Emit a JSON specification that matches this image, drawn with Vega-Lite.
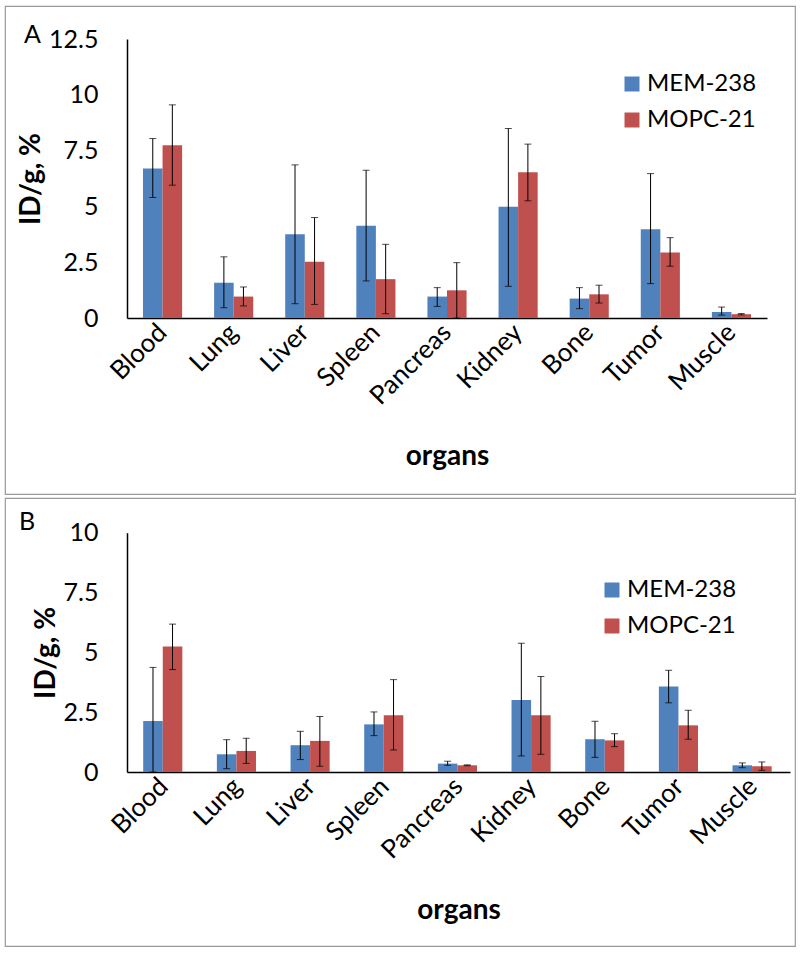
{
  "$schema": "https://vega.github.io/schema/vega-lite/v6.json",
  "padding": {"left": 4, "top": 5, "right": 0, "bottom": 0},
  "bounds": "flush",
  "spacing": 4,
  "background": "white",
  "config": {
    "view": {"stroke": "#999999", "strokeWidth": 1.2},
    "font": "Lato",
    "axis": {
      "ticks": false,
      "tickSize": 0,
      "grid": false,
      "domainColor": "#000000",
      "domainWidth": 1.5,
      "labelFont": "Lato",
      "labelFontSize": 25,
      "labelColor": "#000000",
      "titleFont": "Lato",
      "titleFontSize": 28,
      "titleFontWeight": "bold",
      "titleColor": "#000000"
    },
    "legend": {
      "labelFont": "Lato",
      "labelFontSize": 24,
      "labelColor": "#000000",
      "symbolType": "square",
      "symbolSize": 225,
      "symbolStrokeWidth": 0,
      "labelOffset": 3,
      "rowPadding": 12,
      "padding": 0
    }
  },
  "datasets": {
    "A": [
      {"organ": "Blood", "antibody": "MEM-238", "value": 6.7, "lo": 5.4, "hi": 8.04},
      {"organ": "Blood", "antibody": "MOPC-21", "value": 7.74, "lo": 5.95, "hi": 9.55},
      {"organ": "Lung", "antibody": "MEM-238", "value": 1.58, "lo": 0.46, "hi": 2.74},
      {"organ": "Lung", "antibody": "MOPC-21", "value": 0.96, "lo": 0.54, "hi": 1.39},
      {"organ": "Liver", "antibody": "MEM-238", "value": 3.75, "lo": 0.64, "hi": 6.86},
      {"organ": "Liver", "antibody": "MOPC-21", "value": 2.52, "lo": 0.61, "hi": 4.5},
      {"organ": "Spleen", "antibody": "MEM-238", "value": 4.13, "lo": 1.66, "hi": 6.62},
      {"organ": "Spleen", "antibody": "MOPC-21", "value": 1.74, "lo": 0.19, "hi": 3.3},
      {"organ": "Pancreas", "antibody": "MEM-238", "value": 0.96, "lo": 0.52, "hi": 1.36},
      {"organ": "Pancreas", "antibody": "MOPC-21", "value": 1.24, "lo": 0.0, "hi": 2.48},
      {"organ": "Kidney", "antibody": "MEM-238", "value": 4.98, "lo": 1.42, "hi": 8.49},
      {"organ": "Kidney", "antibody": "MOPC-21", "value": 6.53, "lo": 5.25, "hi": 7.79},
      {"organ": "Bone", "antibody": "MEM-238", "value": 0.87, "lo": 0.42, "hi": 1.36},
      {"organ": "Bone", "antibody": "MOPC-21", "value": 1.06, "lo": 0.67, "hi": 1.47},
      {"organ": "Tumor", "antibody": "MEM-238", "value": 3.98, "lo": 1.54, "hi": 6.47},
      {"organ": "Tumor", "antibody": "MOPC-21", "value": 2.93, "lo": 2.32, "hi": 3.6},
      {"organ": "Muscle", "antibody": "MEM-238", "value": 0.27, "lo": 0.13, "hi": 0.49},
      {"organ": "Muscle", "antibody": "MOPC-21", "value": 0.17, "lo": 0.14, "hi": 0.2}
    ],
    "B": [
      {"organ": "Blood", "antibody": "MEM-238", "value": 2.13, "lo": 0.0, "hi": 4.37},
      {"organ": "Blood", "antibody": "MOPC-21", "value": 5.24, "lo": 4.28, "hi": 6.18},
      {"organ": "Lung", "antibody": "MEM-238", "value": 0.74, "lo": 0.14, "hi": 1.35},
      {"organ": "Lung", "antibody": "MOPC-21", "value": 0.88, "lo": 0.36, "hi": 1.41},
      {"organ": "Liver", "antibody": "MEM-238", "value": 1.12, "lo": 0.52, "hi": 1.7},
      {"organ": "Liver", "antibody": "MOPC-21", "value": 1.3, "lo": 0.24, "hi": 2.32},
      {"organ": "Spleen", "antibody": "MEM-238", "value": 1.99, "lo": 1.52, "hi": 2.51},
      {"organ": "Spleen", "antibody": "MOPC-21", "value": 2.37, "lo": 0.92, "hi": 3.86},
      {"organ": "Pancreas", "antibody": "MEM-238", "value": 0.35, "lo": 0.28, "hi": 0.45},
      {"organ": "Pancreas", "antibody": "MOPC-21", "value": 0.28, "lo": 0.26, "hi": 0.3},
      {"organ": "Kidney", "antibody": "MEM-238", "value": 3.01, "lo": 0.67, "hi": 5.38},
      {"organ": "Kidney", "antibody": "MOPC-21", "value": 2.37, "lo": 0.74, "hi": 3.99},
      {"organ": "Bone", "antibody": "MEM-238", "value": 1.37, "lo": 0.61, "hi": 2.12},
      {"organ": "Bone", "antibody": "MOPC-21", "value": 1.32, "lo": 1.06, "hi": 1.6},
      {"organ": "Tumor", "antibody": "MEM-238", "value": 3.57, "lo": 2.89, "hi": 4.25},
      {"organ": "Tumor", "antibody": "MOPC-21", "value": 1.95, "lo": 1.37, "hi": 2.58},
      {"organ": "Muscle", "antibody": "MEM-238", "value": 0.28, "lo": 0.18, "hi": 0.38},
      {"organ": "Muscle", "antibody": "MOPC-21", "value": 0.24, "lo": 0.07, "hi": 0.42}
    ]
  },
  "vconcat": [
    {
      "width": 790,
      "height": 488,
      "title": {"text": "A", "anchor": "start", "frame": "group", "dx": 19, "dy": 24, "offset": -38, "baseline": "alphabetic", "fontSize": 25, "fontWeight": "normal", "font": "Lato", "color": "#000000"},
      "data": {"name": "A"},
      "encoding": {
        "x": {
          "field": "organ", "type": "nominal",
          "sort": ["Blood", "Lung", "Liver", "Spleen", "Pancreas", "Kidney", "Bone", "Tumor", "Muscle"],
          "scale": {"range": [122, 762], "paddingInner": 0.45, "paddingOuter": 0.225},
          "axis": {"title": "organs", "offset": -176, "labelAngle": -45, "labelAlign": "right", "labelBaseline": "middle", "labelPadding": 10, "labelFontSize": 26, "titlePadding": 33}
        },
        "xOffset": {"field": "antibody", "type": "nominal", "sort": ["MEM-238", "MOPC-21"]}
      },
      "layer": [
        {
          "mark": {"type": "bar"},
          "encoding": {
            "y": {
              "field": "value", "type": "quantitative",
              "scale": {"domain": [0, 12.5], "range": [312, 33], "nice": false, "zero": true},
              "axis": {"title": "ID/g, %", "offset": -122, "values": [0, 2.5, 5, 7.5, 10, 12.5], "format": ".1~f", "labelPadding": 29, "titlePadding": 3}
            },
            "color": {
              "field": "antibody", "type": "nominal",
              "scale": {"domain": ["MEM-238", "MOPC-21"], "range": ["#4F81BD", "#C0504D"]},
              "legend": {"title": null, "orient": "none", "legendX": 615, "legendY": 66}
            }
          }
        },
        {
          "mark": {"type": "rule", "color": "#000000", "strokeWidth": 1},
          "encoding": {
            "y": {"field": "lo", "type": "quantitative"},
            "y2": {"field": "hi"}
          }
        },
        {
          "mark": {"type": "tick", "color": "#000000", "thickness": 1, "size": 7},
          "encoding": {"y": {"field": "hi", "type": "quantitative"}}
        },
        {
          "mark": {"type": "tick", "color": "#000000", "thickness": 1, "size": 7},
          "encoding": {"y": {"field": "lo", "type": "quantitative"}}
        }
      ]
    },
    {
      "width": 790,
      "height": 448,
      "title": {"text": "B", "anchor": "start", "frame": "group", "dx": 14, "dy": 24, "offset": -33, "baseline": "alphabetic", "fontSize": 25, "fontWeight": "normal", "font": "Lato", "color": "#000000"},
      "data": {"name": "B"},
      "encoding": {
        "x": {
          "field": "organ", "type": "nominal",
          "sort": ["Blood", "Lung", "Liver", "Spleen", "Pancreas", "Kidney", "Bone", "Tumor", "Muscle"],
          "scale": {"range": [122, 785], "paddingInner": 0.44, "paddingOuter": 0.22},
          "axis": {"title": "organs", "offset": -174, "labelAngle": -45, "labelAlign": "right", "labelBaseline": "middle", "labelPadding": 10, "labelFontSize": 26, "titlePadding": 33}
        },
        "xOffset": {"field": "antibody", "type": "nominal", "sort": ["MEM-238", "MOPC-21"]}
      },
      "layer": [
        {
          "mark": {"type": "bar"},
          "encoding": {
            "y": {
              "field": "value", "type": "quantitative",
              "scale": {"domain": [0, 10], "range": [274, 34.7], "nice": false, "zero": true},
              "axis": {"title": "ID/g, %", "offset": -122, "values": [0, 2.5, 5, 7.5, 10], "format": ".1~f", "labelPadding": 29, "titlePadding": 3}
            },
            "color": {
              "field": "antibody", "type": "nominal",
              "scale": {"domain": ["MEM-238", "MOPC-21"], "range": ["#4F81BD", "#C0504D"]},
              "legend": {"title": null, "orient": "none", "legendX": 595, "legendY": 80}
            }
          }
        },
        {
          "mark": {"type": "rule", "color": "#000000", "strokeWidth": 1},
          "encoding": {
            "y": {"field": "lo", "type": "quantitative"},
            "y2": {"field": "hi"}
          }
        },
        {
          "mark": {"type": "tick", "color": "#000000", "thickness": 1, "size": 7},
          "encoding": {"y": {"field": "hi", "type": "quantitative"}}
        },
        {
          "mark": {"type": "tick", "color": "#000000", "thickness": 1, "size": 7},
          "encoding": {"y": {"field": "lo", "type": "quantitative"}}
        }
      ]
    }
  ],
  "resolve": {"scale": {"color": "independent"}, "legend": {"color": "independent"}}
}
